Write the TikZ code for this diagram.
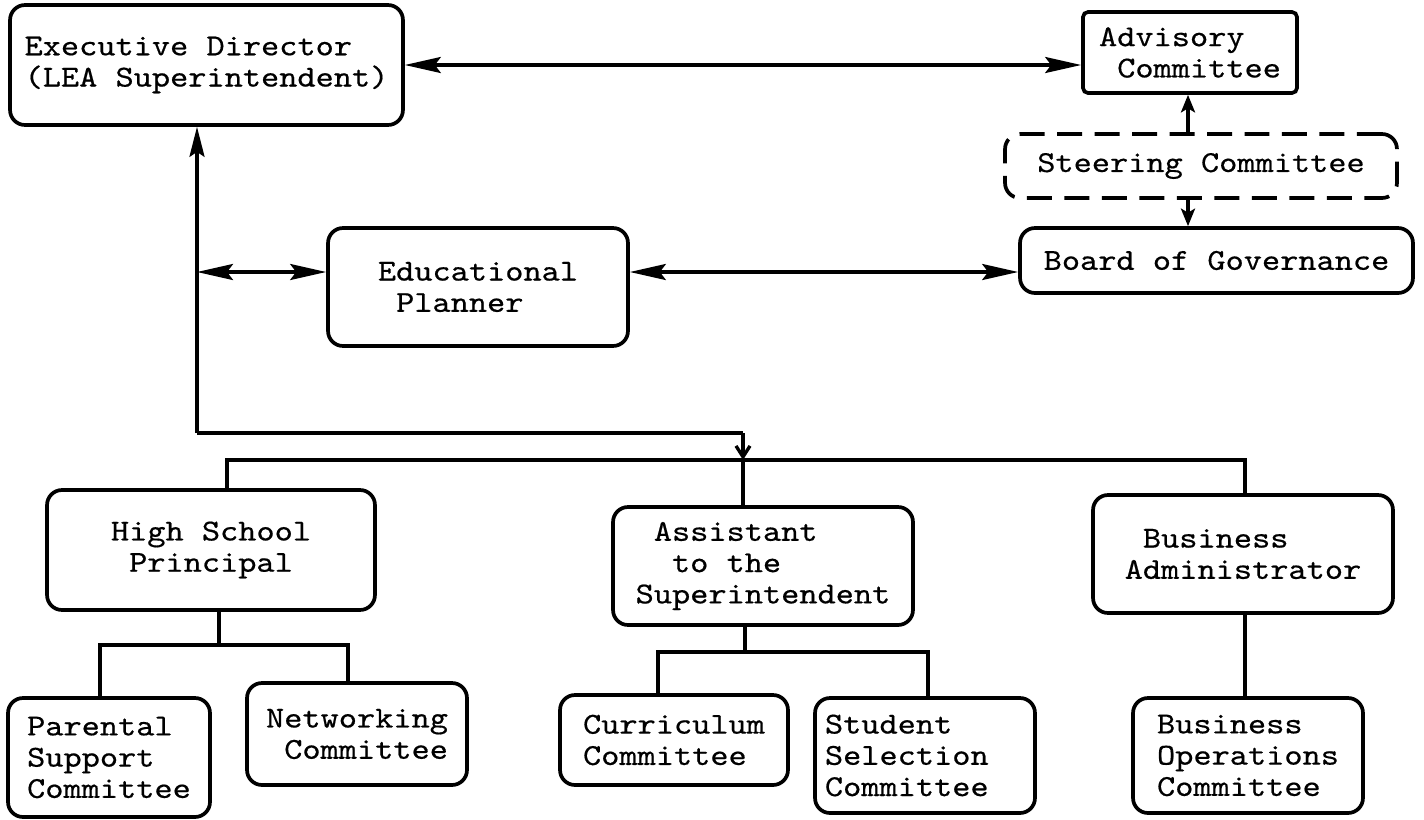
\documentclass[tikz,border=0pt]{standalone}
\usepackage{fontspec}
\usetikzlibrary{arrows.meta}
\newfontfamily\mono{lmmono10-regular.otf}[FakeStretch=1.14,FakeBold=0.5]
\newcommand\tw{\mono\fontsize{17.3}{17.8}\selectfont}
\tikzset{
  box/.style={draw, line width=2.1pt, rounded corners=0.3cm, inner sep=0pt, font=\tw},
  dbox/.style={box, dash pattern=on 0.5cm off 0.25cm},
  conn/.style={line width=1.9pt},
  big/.style={conn, {Stealth[length=0.72cm,width=0.32cm,inset=0.12cm]}-{Stealth[length=0.72cm,width=0.32cm,inset=0.12cm]}},
  up/.style={conn, -{Stealth[length=0.6cm,width=0.3cm,inset=0.1cm]}},
  small/.style={conn, -{Stealth[length=0.35cm,width=0.28cm,inset=0.08cm]}},
  barb/.style={conn, -{Straight Barb[length=0.22cm,width=0.28cm]}}
}
\begin{document}
\begin{tikzpicture}[x=0.02cm,y=-0.02cm]
\useasboundingbox (0,0) rectangle (1424,819);
% boxes
\node[box, minimum width=7.86cm, minimum height=2.4cm, align=left] (exec) at (206.5,65)
  {Executive Director\\(LEA Superintendent)};
\node[box, rounded corners=0.1cm, minimum width=4.28cm, minimum height=1.62cm, align=left] (adv) at (1190,52.5)
  {Advisory\\\phantom{x}Committee};
\node[dbox, minimum width=7.84cm, minimum height=1.28cm] (steer) at (1201,166) {Steering Committee};
\node[box, minimum width=7.86cm, minimum height=1.3cm] (board) at (1216.5,260.5) {Board of Governance};
\node[box, minimum width=6.0cm, minimum height=2.36cm, align=left] (plan) at (478,287)
  {Educational\\\phantom{x}Planner};
\node[box, minimum width=6.56cm, minimum height=2.4cm, align=center] (hsp) at (211,550)
  {High School\\Principal};
\node[box, minimum width=6.0cm, minimum height=2.36cm, align=left] (asst) at (763,566)
  {\phantom{x}Assistant\\\phantom{xx}to the\\Superintendent};
\node[box, minimum width=6.0cm, minimum height=2.36cm, align=left] (badm) at (1243,554)
  {\phantom{x}Business\\Administrator};
\node[box, minimum width=4.04cm, minimum height=2.38cm, align=left] (par) at (109,757.5)
  {Parental\\Support\\Committee};
\node[box, minimum width=4.4cm, minimum height=2.04cm, align=left] (net) at (357,734)
  {Networking\\\phantom{x}Committee};
\node[box, minimum width=4.56cm, minimum height=1.8cm, align=left] (cur) at (674,740)
  {Curriculum\\Committee\phantom{x}};
\node[box, minimum width=4.4cm, minimum height=2.3cm, align=left] (stu) at (925,755.5)
  {Student\phantom{xxxx}\\Selection\\Committee};
\node[box, minimum width=4.6cm, minimum height=2.3cm, align=left] (bop) at (1248,755.5)
  {Business\\Operations\\Committee};
% coordinates
\coordinate (c1) at (197,433);
\coordinate (c2) at (743,433);
\coordinate (ay) at (0,272);
\coordinate (sx) at (1188,0);
\coordinate (bl) at (227,460);
\coordinate (br) at (1245,460);
\coordinate (bm) at (743,460);
\coordinate (h1) at (219,645);
\coordinate (h2) at (100,645);
\coordinate (h3) at (348,645);
\coordinate (a1) at (745,652);
\coordinate (a2) at (658,652);
\coordinate (a3) at (928,652);
% connectors
\draw[big] (exec.east) -- (exec.east -| adv.west);
\draw[up] (c1) -- (c1 |- exec.south);
\draw[conn] (c1) -- (c2);
\draw[barb] (c2) -- (bm);
\draw[big] (c1 |- ay) -- (plan.west |- ay);
\draw[big] (plan.east |- ay) -- (board.west |- ay);
\draw[small] (sx |- steer.north) -- (sx |- adv.south);
\draw[small] (sx |- steer.south) -- (sx |- board.north);
\draw[conn] (bl |- hsp.north) -- (bl) -- (br) -- (br |- badm.north);
\draw[conn] (bm) -- (bm |- asst.north);
\draw[conn] (h1 |- hsp.south) -- (h1);
\draw[conn] (h2 |- par.north) -- (h2) -- (h3) -- (h3 |- net.north);
\draw[conn] (a1 |- asst.south) -- (a1);
\draw[conn] (a2 |- cur.north) -- (a2) -- (a3) -- (a3 |- stu.north);
\draw[conn] (br |- badm.south) -- (br |- bop.north);
\end{tikzpicture}
\end{document}
